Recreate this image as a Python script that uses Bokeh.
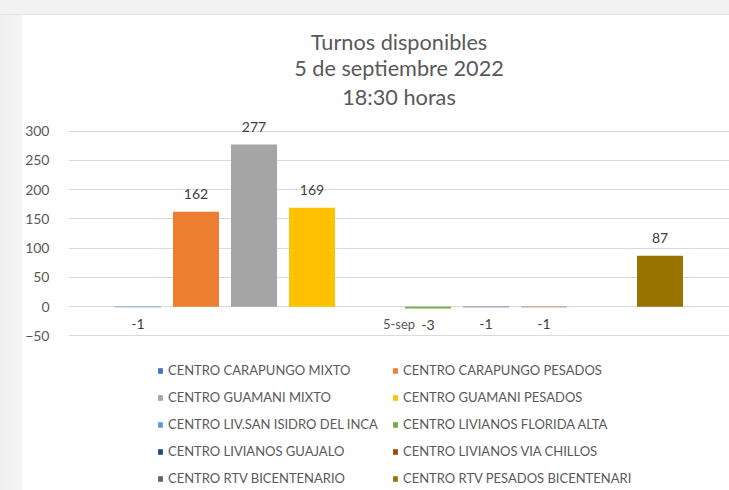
from bokeh.plotting import figure
from bokeh.models import (ColumnDataSource, FactorRange, Range1d, Legend, LegendItem, Title)
from bokeh.transform import dodge
from bokeh.core.properties import value
from bokeh.embed import file_html
from bokeh.resources import INLINE

# ---- data ----
title_lines = ["Turnos disponibles", "5 de septiembre 2022", "18:30 horas"]
category = ["5-sep"]
series_names = [
    "CENTRO CARAPUNGO MIXTO",
    "CENTRO CARAPUNGO PESADOS",
    "CENTRO GUAMANI MIXTO",
    "CENTRO GUAMANI PESADOS",
    "CENTRO LIV.SAN ISIDRO DEL INCA",
    "CENTRO LIVIANOS FLORIDA ALTA",
    "CENTRO LIVIANOS GUAJALO",
    "CENTRO LIVIANOS VIA CHILLOS",
    "CENTRO RTV BICENTENARIO",
    "CENTRO RTV PESADOS BICENTENARI",
]
series_values = [-1, 162, 277, 169, None, -3, -1, -1, None, 87]
series_colors = ["#4472C4", "#ED7D31", "#A5A5A5", "#FFC000", "#5B9BD5",
                 "#70AD47", "#264478", "#9E480E", "#636363", "#997300"]
y_ticks = [-50, 0, 50, 100, 150, 200, 250, 300]

FONT = "Lato"
TXT = "#595959"

# the frame runs down to the bottom so that the legend below the axis is not clipped
p = figure(width=729, height=490, output_backend="svg", toolbar_location=None,
           x_range=FactorRange(factors=category, range_padding=0),
           y_range=Range1d(-314, 330), x_axis_location=None,
           min_border_left=68, min_border_top=113, min_border_right=0,
           min_border_bottom=0, title=None,
           styles={"background": "linear-gradient(to bottom, #f2f2f2 14px, #e2e2e2 14px, #e2e2e2 15px, transparent 15px), "
                                 "linear-gradient(to right, #efefef 0px, #f4f4f4 22px, #ffffff 23px)"})
p.outline_line_color = None
p.background_fill_color = "white"
p.border_fill_alpha = 0

# title: three centred lines (first added = nearest to the plot)
title_standoffs = [7, -4, 0]
for line, so in zip(reversed(title_lines), title_standoffs):
    t = Title(text=line, align="center", text_font=FONT, text_font_size="21.7px",
              text_font_style="normal", text_color=TXT, standoff=so)
    p.add_layout(t, "above")

n = len(series_names)
step = 58 / 661
bar_w = 46 / 661

items = []
for i, (name, v, c) in enumerate(zip(series_names, series_values, series_colors)):
    off = (i - (n - 1) / 2) * step
    val = float("nan") if v is None else v
    src = ColumnDataSource(dict(x=category, top=[val],
                                lab=["" if v is None else str(v)]))
    r = p.vbar(x=dodge("x", off, range=p.x_range), top="top", width=bar_w,
               source=src, fill_color=c, line_color=None)
    items.append(LegendItem(label=name, renderers=[r]))
    if v is not None:
        p.text(x=dodge("x", off, range=p.x_range), y="top", text="lab", source=src,
               text_font=value(FONT), text_font_size="14px", text_color="#404040",
               text_align="center", text_baseline="middle",
               y_offset=(-18 if v >= 0 else 17))

# category label, placed next to the horizontal axis (at 0) as in the original
cat_src = ColumnDataSource(dict(x=category, y=[0] * len(category), lab=category))
p.text(x="x", y="y", text="lab", source=cat_src, text_font=value(FONT),
       text_font_size="13px", text_color=TXT, text_align="center",
       text_baseline="middle", y_offset=17)

# y axis
p.yaxis.ticker = y_ticks
p.yaxis.axis_line_color = None
p.yaxis.major_tick_line_color = None
p.yaxis.minor_tick_line_color = None
p.yaxis.major_label_text_font = FONT
p.yaxis.major_label_text_font_size = "14px"
p.yaxis.major_label_text_color = TXT
p.yaxis.major_label_standoff = 13

p.xgrid.grid_line_color = None
p.ygrid.ticker = y_ticks
p.ygrid.grid_line_color = "#d9d9d9"
p.ygrid.grid_line_width = 1

legend = Legend(items=items, orientation="horizontal", ncols=2, location=(89, 4),
                label_text_font=FONT, label_text_font_size="13px",
                label_text_color=TXT, glyph_width=6, glyph_height=7,
                label_height=16, label_width=213, label_standoff=5,
                spacing=11, padding=0, margin=0,
                border_line_color=None, background_fill_alpha=0)
p.add_layout(legend)

open("out.html", "w").write(file_html(p, INLINE))
